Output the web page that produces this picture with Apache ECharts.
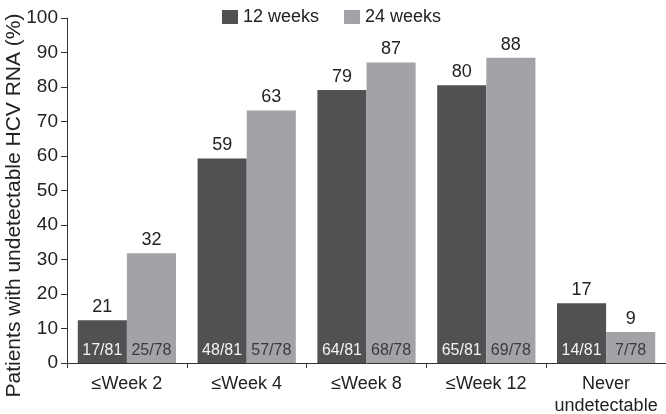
<!DOCTYPE html>
<html><head><meta charset="utf-8">
<script src="https://cdn.jsdelivr.net/npm/echarts@6/dist/echarts.min.js"></script>
<style>html,body{margin:0;padding:0;background:#fff}#c{width:666px;height:414px}</style>
</head><body><div id="c"></div>
<script>
var categories = ['≤Week 2', '≤Week 4', '≤Week 8', '≤Week 12', 'Never\nundetectable'];
var seriesNames = ['12 weeks', '24 weeks'];
// bar heights as drawn in the figure
var heights12 = [12.4, 59.3, 79.1, 80.5, 17.3];
var heights24 = [31.8, 73.2, 87.1, 88.5, 9.0];
// printed percentage labels
var labels12 = ['21', '59', '79', '80', '17'];
var labels24 = ['32', '63', '87', '88', '9'];
// fractions printed inside bars
var frac12 = ['17/81', '48/81', '64/81', '65/81', '14/81'];
var frac24 = ['25/78', '57/78', '68/78', '69/78', '7/78'];
var yTicks = [0, 100, 10];

var FONT = '"Liberation Sans", Arial, sans-serif';
var DARK = '#505153', LIGHT = '#a1a3a6';
var zeros = categories.map(function(){ return 0; });

function baseSeries(name, stack, data, color, labelArr, labelColor, size){
  return {
    name: name, type: 'bar', stack: stack, data: data,
    barCategoryGap: '18%', barGap: '0%',
    itemStyle: {color: color},
    label: {show: true, position: 'top', distance: 4,
      fontFamily: FONT, fontSize: size, color: labelColor,
      formatter: function(p){ return labelArr[p.dataIndex]; }},
    emphasis: {disabled: true}, animation: false
  };
}

var chart = echarts.init(document.getElementById('c'), null, {renderer: 'canvas'});
chart.setOption({
  animation: false,
  backgroundColor: '#ffffff',
  legend: {
    data: seriesNames, top: 3, left: 217, itemWidth: 16, itemHeight: 14,
    itemGap: 25, icon: 'rect',
    textStyle: {fontFamily: FONT, fontSize: 18, color: '#222'}
  },
  grid: {left: 67, right: 0, top: 18, bottom: 51, containLabel: false, outerBoundsMode: 'none'},
  xAxis: {
    type: 'category', data: categories,
    axisLine: {lineStyle: {color: '#333', width: 1}},
    axisTick: {show: true, length: 5, lineStyle: {color: '#333'}},
    axisLabel: {fontFamily: FONT, fontSize: 18, color: '#222', margin: 10, lineHeight: 22, interval: 0}
  },
  yAxis: {
    type: 'value', min: yTicks[0], max: yTicks[1], interval: yTicks[2],
    name: 'Patients with undetectable HCV RNA (%)', nameLocation: 'middle', nameGap: 42,
    nameMoveOverlap: false,
    nameTextStyle: {fontFamily: FONT, fontSize: 21, color: '#222', padding: [0, 0, 0, -30]},
    axisLine: {show: true, lineStyle: {color: '#333', width: 1}},
    axisTick: {show: true, length: 6, lineStyle: {color: '#333'}},
    splitLine: {show: false},
    axisLabel: {fontFamily: FONT, fontSize: 19, color: '#222', margin: 9}
  },
  series: [
    baseSeries('f12', 'a', zeros, DARK, frac12, '#f2f2f2', 16),
    baseSeries(seriesNames[0], 'a', heights12, DARK, labels12, '#222', 18),
    baseSeries('f24', 'b', zeros, LIGHT, frac24, '#3a3a3a', 16),
    baseSeries(seriesNames[1], 'b', heights24, LIGHT, labels24, '#222', 18)
  ]
});
</script></body></html>
